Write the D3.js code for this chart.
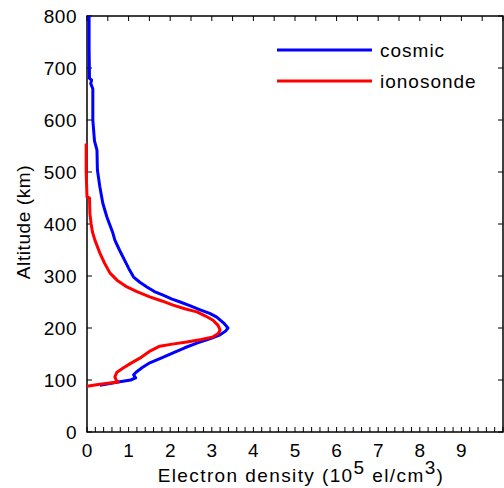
<!DOCTYPE html>
<html><head><meta charset="utf-8">
<script src="https://cdn.jsdelivr.net/npm/d3@7"></script>
<style>body{margin:0;background:#fff}svg{display:block}text{font-family:Arial,"Liberation Sans",sans-serif;fill:#000}</style>
</head><body>
<script>
// Altitude (km) and electron density (10^5 el/cm^3)
const cosmicAlt = [800,740,680,677,670,660,600,560,542,504,471,440,413,383,369,350,331,315,298,288,279,270,263,256,250,242,235,228,221,210,200,194,187,179,171,162,152,142,133,124,115,110,104,100,96,92,90];
const cosmicNe  = [0.05,0.05,0.06,0.11,0.09,0.14,0.14,0.18,0.24,0.25,0.31,0.38,0.48,0.62,0.67,0.78,0.90,1.00,1.12,1.27,1.44,1.62,1.83,2.03,2.24,2.50,2.72,2.95,3.12,3.28,3.39,3.33,3.20,2.95,2.64,2.35,2.07,1.78,1.51,1.33,1.18,1.12,1.17,1.05,0.75,0.45,0.31];
const ionoAlt = [555,500,452,450,420,400,385,369,344,325,306,292,279,270,260,252,244,237,231,223,215,205,196,189,183,178,173,169,165,155,142,132,123,115,106,100,96,92,88];
const ionoNe  = [-0.02,-0.02,0.00,0.06,0.07,0.10,0.13,0.19,0.31,0.42,0.55,0.72,0.96,1.20,1.51,1.80,2.07,2.35,2.64,2.85,3.03,3.15,3.20,3.15,3.03,2.75,2.40,2.05,1.75,1.50,1.27,1.05,0.87,0.72,0.67,0.70,0.75,0.31,0.00];
const xTicks = [0,1,2,3,4,5,6,7,8,9];
const yTicks = [0,100,200,300,400,500,600,700,800];
const seriesNames = ["cosmic","ionosonde"];
const seriesColors = ["#0000ff","#ff0000"];

const W=504,H=488;
const svg=d3.select("body").append("svg").attr("width",W).attr("height",H);
const L=87,R=503,T=16,B=432;
const x=d3.scaleLinear().domain([0,10]).range([L,R]);
const y=d3.scaleLinear().domain([0,800]).range([B,T]);

// frame
const ax=svg.append("g").attr("stroke","#000").attr("fill","none");
ax.append("rect").attr("x",L).attr("y",T).attr("width",R-L).attr("height",B-T).attr("stroke-width",1.5);
d3.range(0,10.01,0.2).forEach(v=>{ax.append("line").attr("x1",x(v)).attr("x2",x(v)).attr("y1",B).attr("y2",B-5);});
d3.range(0,10.01,0.5).forEach(v=>{ax.append("line").attr("x1",x(v)).attr("x2",x(v)).attr("y1",T).attr("y2",T+5);});
yTicks.forEach(v=>{
  ax.append("line").attr("x1",L).attr("x2",L+5).attr("y1",y(v)).attr("y2",y(v));
  ax.append("line").attr("x1",R).attr("x2",R-5).attr("y1",y(v)).attr("y2",y(v));
});
// tick labels
svg.append("g").selectAll("text").data(xTicks).join("text")
  .attr("x",d=>x(d)).attr("y",457).attr("text-anchor","middle").attr("font-size",19).text(d=>d);
svg.append("g").selectAll("text").data(yTicks).join("text")
  .attr("x",77).attr("y",d=>y(d)+7).attr("text-anchor","end").attr("font-size",19).attr("letter-spacing",0.5).text(d=>d);

// axis titles
const xl=svg.append("text").attr("x",301).attr("y",482).attr("text-anchor","middle").attr("font-size",19).attr("letter-spacing",1.4);
xl.append("tspan").text("Electron density (10");
xl.append("tspan").attr("dy",-8).text("5");
xl.append("tspan").attr("dy",8).text(" el/cm");
xl.append("tspan").attr("dy",-8).text("3");
xl.append("tspan").attr("dy",8).text(")");
svg.append("text").attr("transform","translate(30,222) rotate(-90)").attr("text-anchor","middle").attr("font-size",19).attr("letter-spacing",0.6).text("Altitude (km)");

const line=d3.line().x(d=>x(d[0])).y(d=>y(d[1]));
const series=[d3.zip(cosmicNe,cosmicAlt), d3.zip(ionoNe,ionoAlt)];
series.forEach((s,i)=>{
  svg.append("path").datum(s).attr("d",line).attr("fill","none").attr("stroke",seriesColors[i]).attr("stroke-width",3).attr("stroke-linejoin","round");
});

// legend
seriesNames.forEach((n,i)=>{
  const ly=50+i*31;
  svg.append("line").attr("x1",277).attr("x2",372).attr("y1",ly).attr("y2",ly).attr("stroke",seriesColors[i]).attr("stroke-width",3);
  svg.append("text").attr("x",380).attr("y",ly+7).attr("font-size",19).attr("letter-spacing",1).text(n);
});
</script>
</body></html>
